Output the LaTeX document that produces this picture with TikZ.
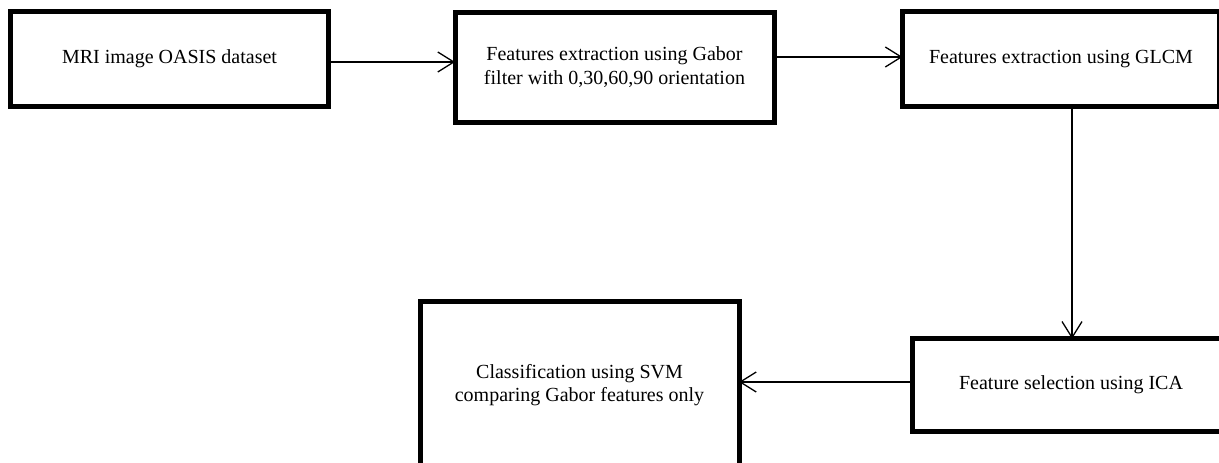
\documentclass[tikz,border=0pt]{standalone}
\usepackage{fontspec}
\setmainfont{Liberation Serif}
\usetikzlibrary{arrows.meta}
\tikzset{
  boxnode/.style={draw=black, line width=5pt, rectangle, align=center, inner sep=0pt, outer sep=0pt,
    font=\fontsize{20}{23.5}\selectfont},
  conn/.style={line width=1.3pt, -{Straight Barb[length=16pt,width=20pt,line width=1.3pt]}}
}
\begin{document}
\begin{tikzpicture}[x=1pt,y=-1pt]
\clip (0,0) rectangle (1219,463);
\node[boxnode, minimum width=318pt, minimum height=95pt] (b1) at (169.5,59) {MRI image OASIS dataset};
\node[boxnode, minimum width=319pt, minimum height=110pt] (b2) at (614.5,67) {Features extraction using Gabor\\filter with 0,30,60,90 orientation};
\node[boxnode, minimum width=317pt, minimum height=94.5pt] (b3) at (1061,59) {Features extraction using GLCM};
\node[boxnode, minimum width=317pt, minimum height=92.5pt] (b4) at (1071,385) {Feature selection using ICA};
\node[boxnode, minimum width=319pt, minimum height=168pt] (b5) at (579.5,385) {Classification using SVM\\comparing Gabor features only};
\draw[conn] ([yshift=-3pt]b1.east) -- ([yshift=-3pt]b1.east -| b2.west);
\draw[conn] ([yshift=2pt]b2.east |- b3.west) -- ([yshift=2pt]b3.west);
\draw[conn] ([xshift=1pt]b4.north |- b3.south) -- ([xshift=1pt]b4.north);
\draw[conn] ([yshift=3pt]b4.west) -- ([yshift=3pt]b4.west -| b5.east);
\end{tikzpicture}
\end{document}
